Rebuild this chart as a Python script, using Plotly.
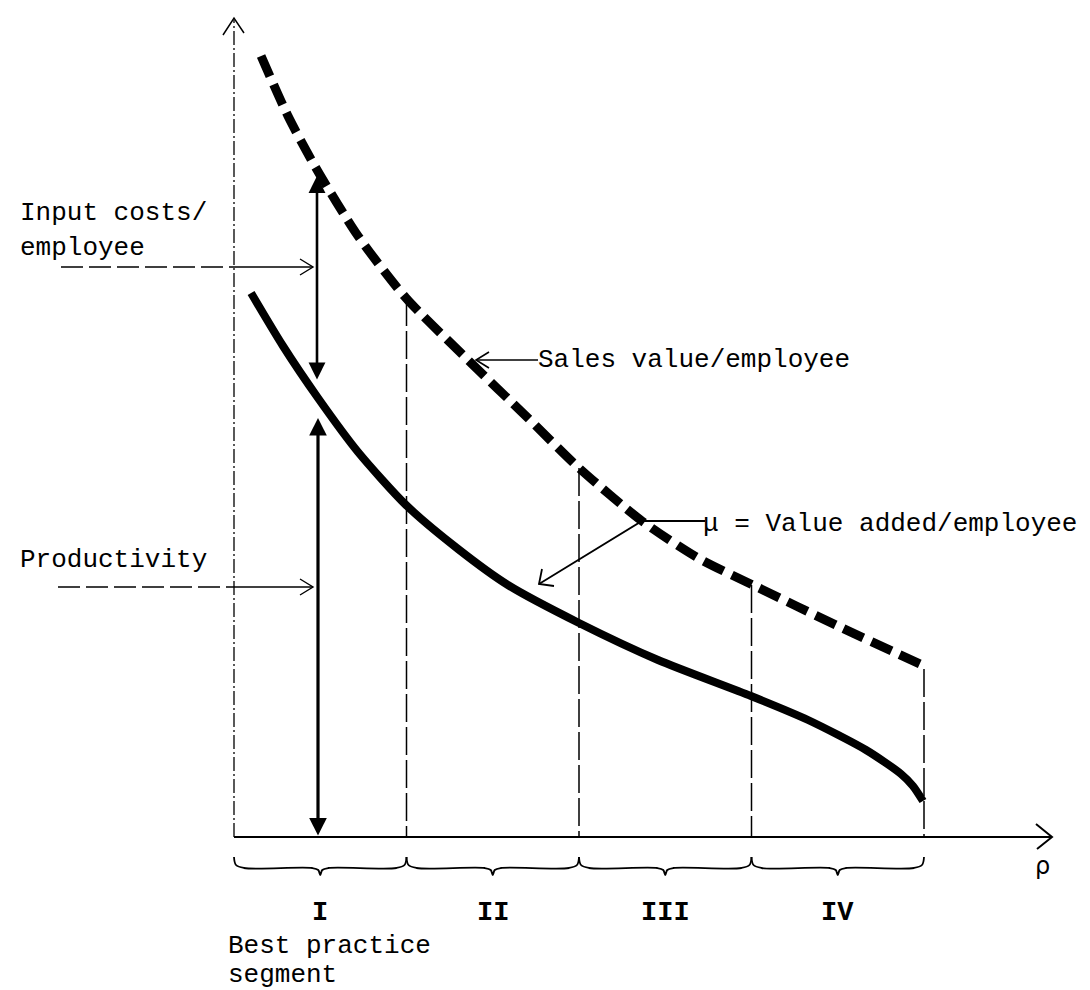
import plotly.graph_objects as go

# ---------------- data ----------------
rho_sales = [0.157, 0.313, 0.475, 0.719, 0.997, 1.357, 1.704, 2.0, 2.365, 2.690, 3.020, 3.501, 3.977]
sales_value = [7.81, 7.21, 6.69, 6.01, 5.39, 4.77, 4.19, 3.69, 3.16, 2.79, 2.51, 2.11, 1.73]

rho_prod = [0.099, 0.284, 0.487, 0.719, 0.997, 1.299, 1.588, 2.0, 2.458, 2.997, 3.328, 3.664, 3.867, 3.936, 3.994]
productivity = [5.44, 4.91, 4.39, 3.85, 3.32, 2.88, 2.52, 2.14, 1.77, 1.41, 1.17, 0.87, 0.63, 0.51, 0.36]

segment_bounds = [0, 1, 2, 3, 4]
bound_tops = [None, 5.39, 3.69, 2.52, 1.68]
segment_labels = ["I", "II", "III", "IV"]

# ---------------- geometry helpers (pixel <-> data) ----------------
X0, SX = 226.0, 172.5
Y0, SY = 829.0, 100.0
W, H = 1090, 990


def X(px):
    return (px - X0) / SX


def Y(py):
    return (Y0 - py) / SY


FONT = "Liberation Mono, Courier New, monospace"
BLACK = "#000000"

fig = go.Figure()


def line_px(pts, width=1.5, dash="solid", shape="linear"):
    fig.add_trace(go.Scatter(
        x=[X(p[0]) for p in pts], y=[Y(p[1]) for p in pts],
        mode="lines", line=dict(color=BLACK, width=width, dash=dash, shape=shape),
        hoverinfo="skip", showlegend=False))


# main curves
fig.add_trace(go.Scatter(x=rho_sales, y=sales_value, mode="lines",
                         line=dict(color=BLACK, width=9, dash="22px,9px", shape="spline", smoothing=0.7),
                         name="Sales value/employee", showlegend=False, hoverinfo="skip"))
fig.add_trace(go.Scatter(x=rho_prod, y=productivity, mode="lines",
                         line=dict(color=BLACK, width=8, shape="spline", smoothing=0.7),
                         name="Value added/employee", showlegend=False, hoverinfo="skip"))

# vertical segment boundary lines
for b, t in zip(segment_bounds[1:], bound_tops[1:]):
    fig.add_trace(go.Scatter(x=[b, b], y=[t, 0], mode="lines",
                             line=dict(color=BLACK, width=1.5, dash="28px,5px"),
                             hoverinfo="skip", showlegend=False))

# y axis (dash-dot) with open arrowhead
line_px([(226, 829), (226, 12)], width=1.3, dash="14px,3px,2px,3px")
line_px([(215, 27), (226, 10), (236, 25)], width=1.5)

# x axis with open arrowhead
line_px([(226, 829), (1043, 829)], width=2)
line_px([(1028, 816), (1044, 829), (1029, 841)], width=2)

# brackets beneath segments
for a, b in zip(segment_bounds[:-1], segment_bounds[1:]):
    xa, xb = X0 + a * SX, X0 + b * SX
    m = (xa + xb) / 2
    pts = [(xa, 849), (xa + 2, 857), (xa + 10, 860), (m - 8, 860), (m - 2, 862), (m, 867),
           (m + 2, 862), (m + 8, 860), (xb - 10, 860), (xb - 2, 857), (xb, 849)]
    line_px(pts, width=1.8, shape="spline")

# segment numerals
for a, b, lab in zip(segment_bounds[:-1], segment_bounds[1:], segment_labels):
    fig.add_annotation(x=(a + b) / 2, y=Y(905), text="<b>%s</b>" % lab, showarrow=False,
                       font=dict(family=FONT, size=27, color=BLACK), xanchor="center", yanchor="middle")

# double-headed arrows at x = 310
fig.add_annotation(x=X(309), y=Y(168), ax=X(309), ay=Y(373), xref="x", yref="y", axref="x", ayref="y",
                   text="", showarrow=True, arrowhead=2, arrowside="end+start", arrowwidth=2.6,
                   arrowsize=1.3, arrowcolor=BLACK)
fig.add_annotation(x=X(310), y=Y(410), ax=X(310), ay=Y(829), xref="x", yref="y", axref="x", ayref="y",
                   text="", showarrow=True, arrowhead=2, arrowside="end+start", arrowwidth=3.2,
                   arrowsize=1.1, arrowcolor=BLACK)

# left labels + pointer arrows
fig.add_annotation(x=X(10), y=Y(205), text="Input costs/", showarrow=False, xanchor="left", yanchor="middle",
                   font=dict(family=FONT, size=26, color=BLACK))
fig.add_annotation(x=X(10), y=Y(240), text="employee", showarrow=False, xanchor="left", yanchor="middle",
                   font=dict(family=FONT, size=26, color=BLACK))
line_px([(53, 259), (226, 259)], width=1.4, dash="22px,6px")
line_px([(226, 259), (305, 259)], width=1.4)
line_px([(292, 251), (305, 259), (292, 267)], width=1.4)

fig.add_annotation(x=X(10), y=Y(552), text="Productivity", showarrow=False, xanchor="left", yanchor="middle",
                   font=dict(family=FONT, size=26, color=BLACK))
line_px([(50, 579), (226, 579)], width=1.4, dash="22px,6px")
line_px([(226, 579), (305, 579)], width=1.4)
line_px([(292, 571), (305, 579), (292, 587)], width=1.4)

# sales label
fig.add_annotation(x=X(528), y=Y(352), text="Sales value/employee", showarrow=False, xanchor="left",
                   yanchor="middle", font=dict(family=FONT, size=26, color=BLACK))
line_px([(468, 352), (530, 352)], width=1.6)
line_px([(481, 344), (468, 352), (481, 360)], width=1.6)

# value added label
fig.add_annotation(x=X(693), y=Y(516), text="\u03bc = Value added/employee", showarrow=False, xanchor="left",
                   yanchor="middle", font=dict(family=FONT, size=26, color=BLACK))
line_px([(697, 513), (634, 513), (531, 576)], width=1.8)
line_px([(534, 561), (531, 576), (546, 578)], width=1.8)

# bottom caption
fig.add_annotation(x=X(218), y=Y(938), text="Best practice", showarrow=False, xanchor="left", yanchor="middle",
                   font=dict(family=FONT, size=26, color=BLACK))
fig.add_annotation(x=X(218), y=Y(967), text="segment", showarrow=False, xanchor="left", yanchor="middle",
                   font=dict(family=FONT, size=26, color=BLACK))

# rho axis label
fig.add_annotation(x=X(1034), y=Y(858), text="\u03c1", showarrow=False, xanchor="center", yanchor="middle",
                   font=dict(family="DejaVu Sans, sans-serif", size=24, color=BLACK))

fig.update_layout(
    width=W, height=H, margin=dict(l=0, r=0, t=0, b=0),
    paper_bgcolor="white", plot_bgcolor="white", showlegend=False,
    xaxis=dict(range=[X(0), X(W)], visible=False, fixedrange=True),
    yaxis=dict(range=[Y(H), Y(0)], visible=False, fixedrange=True),
)

fig.write_html("out.html")
